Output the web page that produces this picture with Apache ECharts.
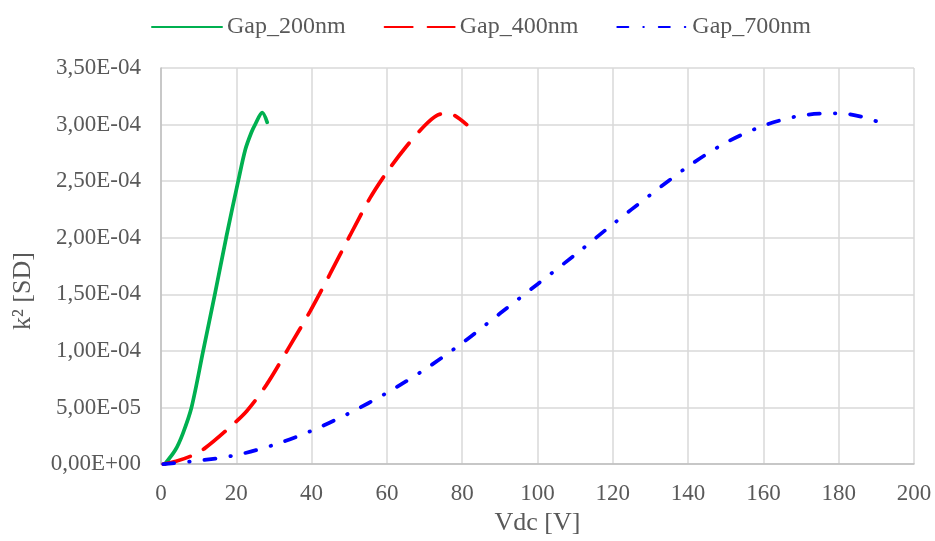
<!DOCTYPE html>
<html><head><meta charset="utf-8">
<script src="https://cdn.jsdelivr.net/npm/echarts@6/dist/echarts.min.js"></script>
<style>html,body{margin:0;padding:0;background:#fff}#c{width:935px;height:541px}</style>
</head><body><div id="c"></div>
<script>
const seriesNames = ['Gap_200nm', 'Gap_400nm', 'Gap_700nm'];
const gap200 = [[1.0,0],[3.8,1.24e-5],[5.8,2.7e-5],[8.1,5.0e-5],[11.2,1.0e-4],[14.3,1.5e-4],[17.3,2.0e-4],[20.5,2.5e-4],[22.4,2.78e-4],[24.0,2.93e-4],[25.0,3.0e-4],[26.9,3.105e-4],[28.2,3.02e-4]];
const gap400 = [[0.6,0],[4,0.25e-5],[8,0.72e-5],[11.6,1.39e-5],[17.3,2.97e-5],[22.8,4.7e-5],[28,7.0e-5],[33.8,1.02e-4],[39.6,1.35e-4],[44.9,1.68e-4],[50.2,2.02e-4],[55.5,2.35e-4],[60,2.58e-4],[65,2.80e-4],[70,2.99e-4],[73.2,3.08e-4],[75.9,3.10e-4],[78,3.08e-4],[81.2,3.0e-4]];
const gap700 = [[0.6,0],[10,0.3e-5],[20,0.8e-5],[30,1.7e-5],[40,2.95e-5],[50,4.5e-5],[60,6.3e-5],[70,8.35e-5],[80,1.07e-4],[90,1.33e-4],[100,1.59e-4],[110,1.85e-4],[120,2.12e-4],[130,2.38e-4],[140,2.63e-4],[150,2.84e-4],[160,2.99e-4],[170,3.08e-4],[180,3.10e-4],[186,3.07e-4],[191.7,3.01e-4]];
const xTicks = {min:0, max:200, interval:20};
const yTicks = {min:0, max:3.5e-4, interval:5e-5};

function sci(v){
  if (Math.abs(v) < 1e-12) return '0,00E+00';
  let s = v.toExponential(2);
  let [m, e] = s.split('e');
  let n = parseInt(e, 10);
  let sign = n < 0 ? '-' : '+';
  let ee = String(Math.abs(n)).padStart(2,'0');
  return m.replace('.', ',') + 'E' + sign + ee;
}
const font = 'Liberation Serif';
const txt = '#595959';
const chart = echarts.init(document.getElementById('c'));
chart.setOption({
  animation:false,
  backgroundColor:'#fff',
  textStyle:{fontFamily:font},
  legend:{
    top:10, left:146, itemWidth:70, itemHeight:14, itemGap:38,
    itemStyle:{opacity:0},
    textStyle:{fontFamily:font, fontSize:24, color:txt},
    data:seriesNames
  },
  grid:{left:161, right:21, top:68, bottom:70},
  xAxis:{
    type:'value', min:xTicks.min, max:xTicks.max, interval:xTicks.interval,
    name:'Vdc [V]', nameLocation:'middle', nameGap:43,
    nameTextStyle:{fontFamily:font, fontSize:26, color:txt},
    axisLine:{show:true, lineStyle:{color:'#bfbfbf', width:1.5}},
    axisTick:{show:false},
    axisLabel:{fontFamily:font, fontSize:23, color:txt, margin:18},
    splitLine:{show:true, lineStyle:{color:'#d9d9d9', width:1.5}}
  },
  yAxis:{
    type:'value', min:yTicks.min, max:yTicks.max, interval:yTicks.interval,
    name:'k² [SD]', nameLocation:'middle', nameGap:125, nameRotate:90,
    nameTextStyle:{fontFamily:font, fontSize:26, color:txt, padding:[0,50,0,0]},
    axisLine:{show:true, lineStyle:{color:'#bfbfbf', width:1.5}},
    axisTick:{show:false},
    axisLabel:{fontFamily:font, fontSize:23, color:txt, margin:20, formatter:sci},
    splitLine:{show:true, lineStyle:{color:'#d9d9d9', width:1.5}}
  },
  series:[
    {name:seriesNames[0], type:'line', data:gap200, smooth:0.3, symbol:'none',
     lineStyle:{color:'#00b050', width:3.75, cap:'round'}, itemStyle:{color:'#00b050'}},
    {name:seriesNames[1], type:'line', data:gap400, smooth:0.3, symbol:'none',
     lineStyle:{color:'#ff0000', width:3.75, type:[28,15], cap:'round'}, itemStyle:{color:'#ff0000'}},
    {name:seriesNames[2], type:'line', data:gap700, smooth:0.3, symbol:'none',
     lineStyle:{color:'#0000ff', width:3.75, type:[11,15,0.5,15], cap:'round'}, itemStyle:{color:'#0000ff'}}
  ]
});
</script></body></html>
